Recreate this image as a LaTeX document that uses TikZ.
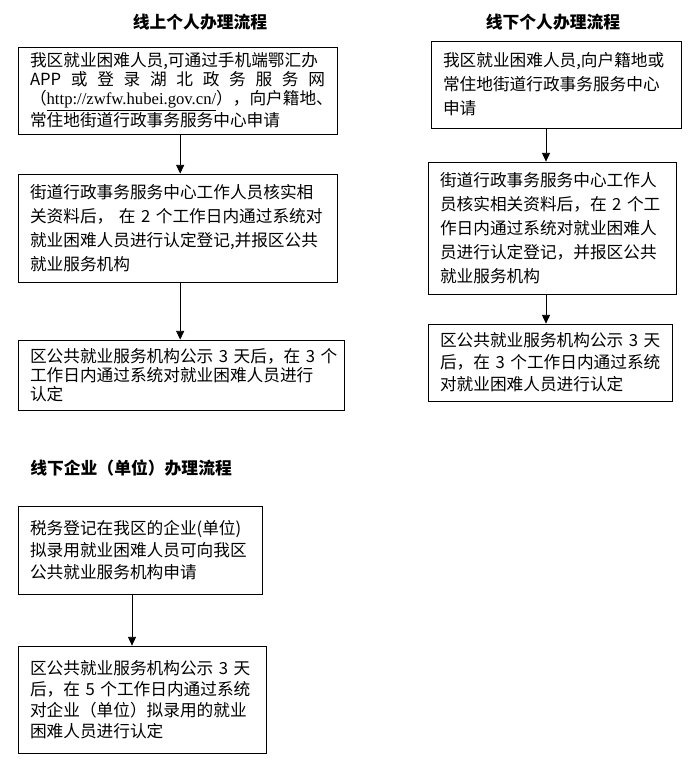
\documentclass[tikz,border=0pt]{standalone}
\usepackage{fontspec}
\setmainfont{Noto Sans CJK SC}
\newfontfamily\urlfont{Liberation Serif}
\usetikzlibrary{arrows.meta}

\tikzset{
  stepbox/.style n args={3}{draw, line width=0.6pt, inner xsep=9pt, inner ysep=0pt,
    align=left, text width=#1, minimum height=#2,
    font=\fontsize{12.5}{#3}\selectfont},
  headlbl/.style={inner sep=0pt, font=\bfseries\fontsize{12.6}{15}\selectfont},
  flowarrow/.style={line width=0.6pt, -{Triangle[width=6pt,length=6.5pt]}}
}

\begin{document}
\begin{tikzpicture}[x=0.75pt,y=-0.75pt]
\useasboundingbox (0,0) rectangle (693,774);

% Text Node
\node[headlbl] (tonline) at (200,22) {线上个人办理流程};
% Text Node
\node[headlbl] (toffline) at (553,22) {线下个人办理流程};
% Text Node
\node[headlbl, anchor=west] (tfirm) at (30,468) {线下企业（单位）办理流程};

%Shape: Rectangle -- online column
\node[stepbox={221.25pt}{65.25pt}{14.25pt}] (on1) at (177.5,90.5)
  {我区就业困难人员,可通过手机端鄂汇办\\
   \leavevmode\hbox to \hsize{APP\hfil 或\hfil 登\hfil 录\hfil 湖\hfil 北\hfil 政\hfil 务\hfil 服\hfil 务\hfil 网}\\
   \leavevmode\hbox to \hsize{（{\urlfont\underline{http://zwfw.hubei.gov.cn/}}），向户籍地、\hss}\\
   常住地街道行政事务服务中心申请};
\node[stepbox={221.25pt}{81pt}{18pt}] (on2) at (177.5,228)
  {街道行政事务服务中心工作人员核实相\\
   \leavevmode\hbox to \hsize{关资料后， 在 2 个工作日内通过系统对\hss}\\
   就业困难人员进行认定登记,并报区公共\\
   就业服务机构};
\node[stepbox={226.5pt}{52.5pt}{14.25pt}] (on3) at (181,375)
  {\leavevmode\hbox to \hsize{区公共就业服务机构公示 3 天后，在 3 个\hss}\\
   工作日内通过系统对就业困难人员进行\\
   认定};

%Shape: Rectangle -- offline column
\node[stepbox={169.5pt}{65.25pt}{18pt}] (off1) at (556,84.5)
  {我区就业困难人员,向户籍地或\\
   常住地街道行政事务服务中心\\
   申请};
\node[stepbox={168pt}{99pt}{18pt}] (off2) at (552,228)
  {街道行政事务服务中心工作人\\
   \leavevmode\hbox to \hsize{员核实相关资料后，在 2 个工\hss}\\
   作日内通过系统对就业困难人\\
   员进行认定登记，并报区公共\\
   就业服务机构};
\node[stepbox={165pt}{57.75pt}{16.5pt}] (off3) at (550,362.5)
  {\leavevmode\hbox to \hsize{区公共就业服务机构公示 3 天\hss}\\
   \leavevmode\hbox to \hsize{后，在 3 个工作日内通过系统\hss}\\
   对就业困难人员进行认定};

%Shape: Rectangle -- firm column
\node[stepbox={165pt}{66pt}{16.5pt}] (firm1) at (140,550)
  {税务登记在我区的企业(单位)\\
   拟录用就业困难人员可向我区\\
   公共就业服务机构申请};
\node[stepbox={168pt}{80.25pt}{15.75pt}] (firm2) at (142,699.5)
  {\leavevmode\hbox to \hsize{区公共就业服务机构公示 3 天\hss}\\
   \leavevmode\hbox to \hsize{后，在 5 个工作日内通过系统\hss}\\
   对企业（单位）拟录用的就业\\
   困难人员进行认定};

%Straight Lines
\draw[flowarrow] ([xshift=2pt]on1.south) -- ([xshift=2pt]on1.south |- on2.north);
\draw[flowarrow] ([xshift=2pt]on2.south) -- ([xshift=2pt]on2.south |- on3.north);
\draw[flowarrow] ([xshift=-7.5pt]off1.south) -- ([xshift=-7.5pt]off1.south |- off2.north);
\draw[flowarrow] ([xshift=-4.5pt]off2.south) -- ([xshift=-4.5pt]off2.south |- off3.north);
\draw[flowarrow] ([xshift=-6pt]firm1.south) -- ([xshift=-6pt]firm1.south |- firm2.north);
\end{tikzpicture}
\end{document}
